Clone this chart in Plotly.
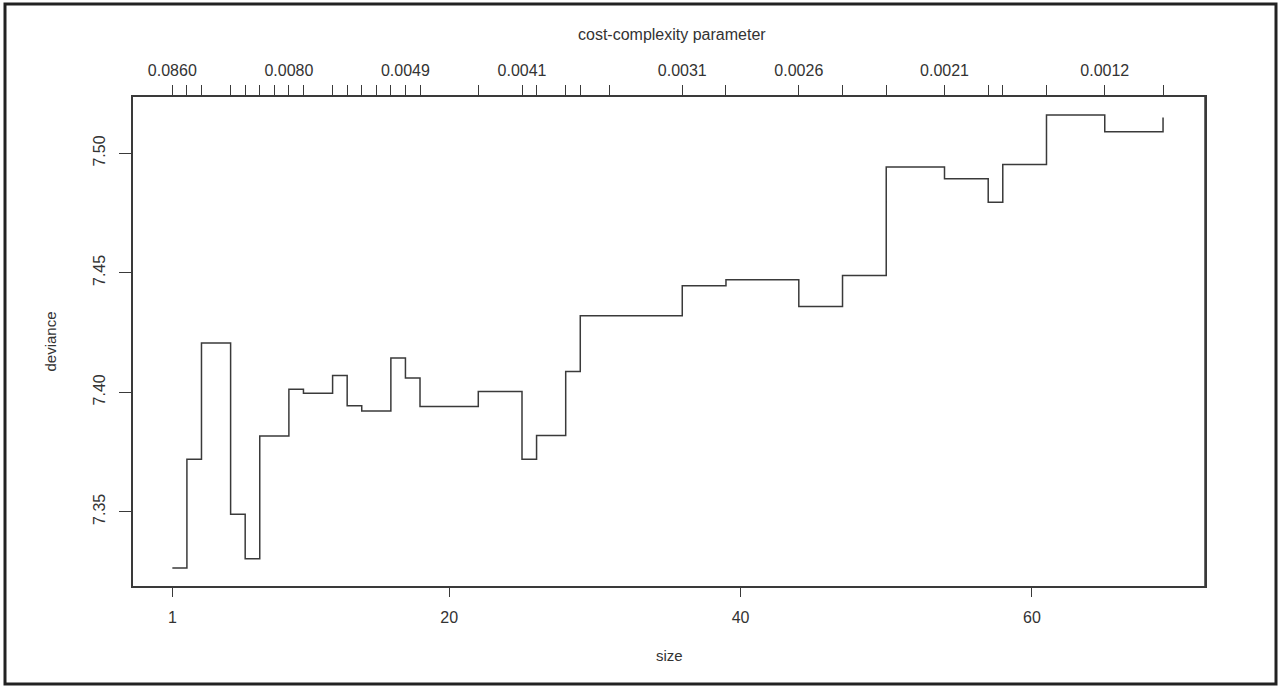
import plotly.graph_objects as go

# ---- data ----
sizes = [1, 2, 3, 5, 6, 7, 8, 9, 10, 12, 13, 14, 15, 16, 17, 18, 22, 25, 26,
         28, 29, 31, 36, 39, 44, 47, 50, 54, 57, 58, 61, 65, 69]
deviance = [7.3265, 7.3720, 7.4206, 7.3489, 7.3303, 7.3817, 7.3817, 7.4013,
            7.3996, 7.4070, 7.3944, 7.3922, 7.3922, 7.4143, 7.4060, 7.3940,
            7.4003, 7.3720, 7.3819, 7.4087, 7.4320, 7.4320, 7.4446, 7.4471,
            7.4359, 7.4489, 7.4943, 7.4894, 7.4795, 7.4953, 7.5160, 7.5090,
            7.5150]
# cost-complexity labels shown on the top axis (blank where R dropped them)
cp_label_at = {1: "0.0860", 9: "0.0080", 17: "0.0049", 25: "0.0041",
               36: "0.0031", 44: "0.0026", 54: "0.0021", 65: "0.0012"}
cp_text = [cp_label_at.get(s, "") for s in sizes]
bottom_ticks = [1, 20, 40, 60]
left_ticks = [7.35, 7.40, 7.45, 7.50]
left_text = ["7.35", "7.40", "7.45", "7.50"]

# ---- layout geometry (pixels) ----
W, H = 1281, 688
L, R, T, B = 133, 1205, 97, 586
pw, ph = R - L, B - T


def px(x):
    return (x - L) / pw


def py(y):
    return (B - y) / ph


ink = "#3a3a3a"
txt = "#333333"
FONT = "Liberation Sans, Arial, sans-serif"

lo = min(deviance)
hi = max(deviance)
pad = 0.04 * (hi - lo)
xr = [min(sizes) - 0.04 * (max(sizes) - min(sizes)) + 0.02,
      max(sizes) + 0.04 * (max(sizes) - min(sizes)) + 0.16]

fig = go.Figure()
fig.add_trace(go.Scatter(x=sizes, y=deviance, mode="lines",
                         line=dict(shape="hv", color=ink, width=1.5),
                         hoverinfo="skip", showlegend=False))
# invisible trace to activate top axis
fig.add_trace(go.Scatter(x=sizes, y=deviance, xaxis="x2", mode="lines",
                         line=dict(width=0), opacity=0, hoverinfo="skip",
                         showlegend=False))

fig.update_layout(
    width=W, height=H,
    margin=dict(l=L, r=W - R, t=T, b=H - B, pad=0),
    paper_bgcolor="white", plot_bgcolor="white",
    font=dict(family=FONT, color=txt, size=16),
    xaxis=dict(range=xr, tickvals=bottom_ticks,
               ticktext=[str(v) for v in bottom_ticks],
               ticks="outside", ticklen=9, tickwidth=1.3, tickcolor=ink,
               showline=True, linecolor=ink, linewidth=1.5, mirror=False,
               showgrid=False, zeroline=False, ticklabelstandoff=7,
               tickfont=dict(size=16, color=txt)),
    xaxis2=dict(range=xr, overlaying="x", side="top", tickvals=sizes,
                ticktext=cp_text, ticks="outside", ticklen=10,
                tickwidth=1.3, tickcolor=ink, showline=True, linecolor=ink,
                linewidth=1.5, showgrid=False, zeroline=False,
                tickfont=dict(size=16, color=txt), tickangle=0,
                ticklabelstandoff=3),
    yaxis=dict(range=[lo - pad, hi + pad], tickvals=left_ticks,
               ticktext=left_text, ticks="outside", ticklen=12,
               tickwidth=1.3, tickcolor=ink, showline=True, linecolor=ink,
               linewidth=1.5, mirror=True, showgrid=False, zeroline=False,
               tickangle=-90, ticklabelstandoff=8,
               tickfont=dict(size=16, color=txt)),
    shapes=[
        # right border of plot box
        dict(type="line", xref="paper", yref="paper", x0=1, x1=1, y0=0, y1=1,
             line=dict(color=ink, width=1.5)),
        # outer frame of the figure
        dict(type="rect", xref="paper", yref="paper",
             x0=px(5), x1=px(1276), y0=py(684), y1=py(4),
             line=dict(color="#222222", width=3)),
    ],
    annotations=[
        dict(text="cost-complexity parameter", xref="paper", yref="paper",
             x=px(672), y=py(35), showarrow=False, xanchor="center",
             yanchor="middle", font=dict(size=16, color=txt)),
        dict(text="size", xref="paper", yref="paper", x=0.5, y=py(655),
             showarrow=False, xanchor="center", yanchor="middle",
             font=dict(size=15, color=txt)),
        dict(text="deviance", xref="paper", yref="paper", x=px(50), y=0.5,
             showarrow=False, xanchor="center", yanchor="middle",
             textangle=-90, font=dict(size=15, color=txt)),
    ],
)

fig.write_html("out.html")
